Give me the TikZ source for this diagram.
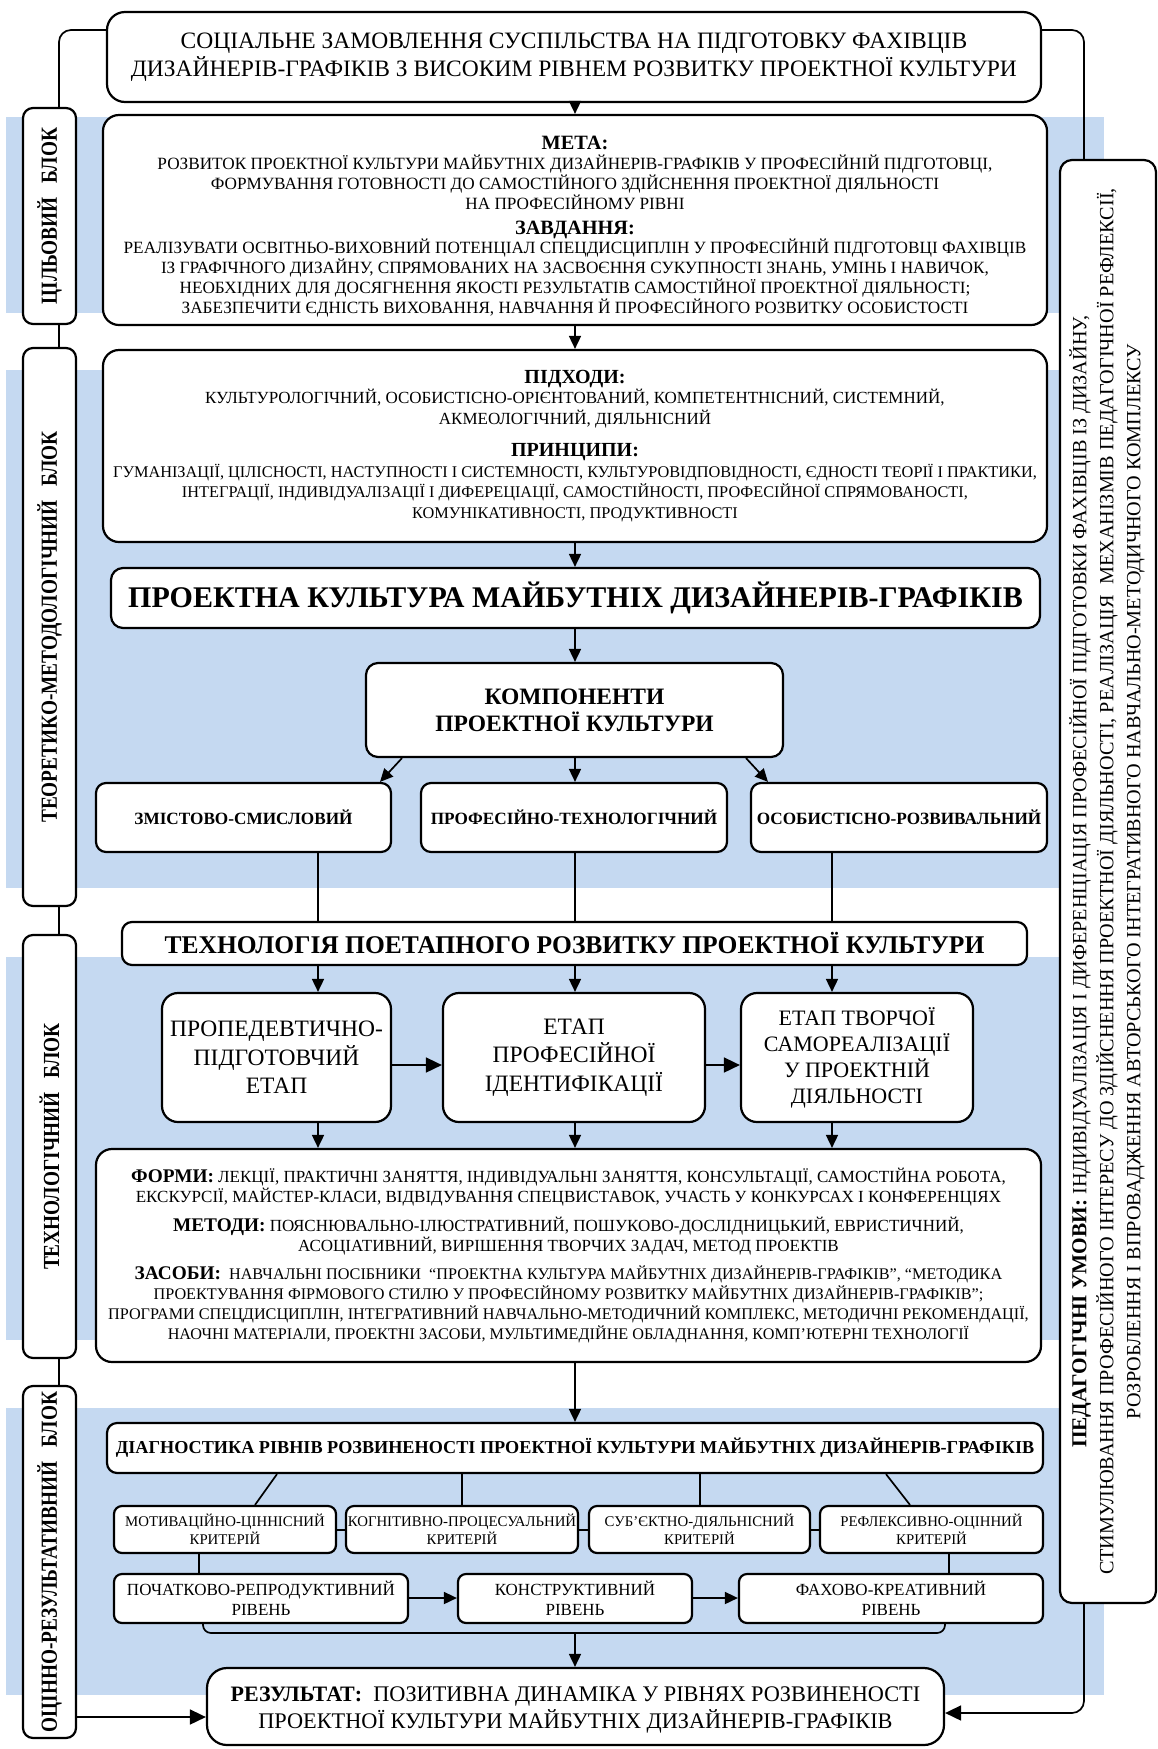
\documentclass[tikz,border=0pt]{standalone}
\usepackage{graphicx}
\usepackage{fontspec}
\setmainfont{Liberation Serif}
\newfontfamily\lblfont{Liberation Serif}[FakeStretch=0.84]
\usetikzlibrary{arrows.meta}
\definecolor{bandblue}{RGB}{197,217,241}
\newcommand\fsz[2]{\fontsize{#1}{#2}\selectfont}
\begin{document}
\begin{tikzpicture}[x=1pt,y=-1pt,
  box/.style={draw=black, line width=2.2pt, fill=white, rounded corners=12pt, inner sep=0pt, align=center},
  conn/.style={draw=black, line width=1.7pt},
  arr/.style={conn, -{Triangle[length=13pt,width=12pt]}},
  bigarr/.style={conn, -{Triangle[length=16pt,width=15pt]}},
  lbl/.style={box, rounded corners=10pt, minimum width=53pt},
]
\useasboundingbox (0,0) rectangle (1158,1749);
\fill[white] (0,0) rectangle (1158,1749);
% bands
\fill[bandblue] (6,117) rectangle (1104,313);
\fill[bandblue] (6,370) rectangle (1104,888);
\fill[bandblue] (6,957) rectangle (1104,1340);
\fill[bandblue] (6,1408) rectangle (1104,1695);

% helper coordinates
\coordinate (lx) at (59,0);
\coordinate (rx) at (1084,0);
\coordinate (ty) at (0,30);
\coordinate (cA) at (318,0);
\coordinate (cB) at (575,0);
\coordinate (cC) at (832,0);
\coordinate (dA1) at (402,0);
\coordinate (dA2) at (380,0);
\coordinate (dC1) at (746,0);
\coordinate (dC2) at (768,0);
\coordinate (sy) at (0,1065);
\coordinate (k1a) at (277,0);
\coordinate (k1b) at (255,0);
\coordinate (k2a) at (462,0);
\coordinate (k3a) at (700,0);
\coordinate (k4a) at (886,0);
\coordinate (k4b) at (910,0);
\coordinate (hy) at (0,1530);
\coordinate (v1) at (199,0);
\coordinate (v4) at (949,0);
\coordinate (ly) at (0,1598);
\coordinate (bL) at (203,1633);
\coordinate (bR) at (945,1633);
\coordinate (bM) at (575,1633);
\coordinate (ay) at (0,1717);
\coordinate (ay2) at (0,1713);

% top box
\node[box, rounded corners=18pt, minimum width=934pt, minimum height=90pt, font=\fsz{23.5}{28}] (top) at (574,57)
 {СОЦІАЛЬНЕ ЗАМОВЛЕННЯ СУСПІЛЬСТВА НА ПІДГОТОВКУ ФАХІВЦІВ\\
  ДИЗАЙНЕРІВ-ГРАФІКІВ З ВИСОКИМ РІВНЕМ РОЗВИТКУ ПРОЕКТНОЇ КУЛЬТУРИ};

% meta
\node[box, rounded corners=16pt, minimum width=944pt, minimum height=210pt, font=\fsz{17.2}{19.8}] (meta) at (575,220)
 {\rule{0pt}{27pt}{\bfseries\fsz{20.3}{19.8}МЕТА:}\\
  РОЗВИТОК ПРОЕКТНОЇ КУЛЬТУРИ МАЙБУТНІХ ДИЗАЙНЕРІВ-ГРАФІКІВ У ПРОФЕСІЙНІЙ ПІДГОТОВЦІ,\\
  ФОРМУВАННЯ ГОТОВНОСТІ ДО САМОСТІЙНОГО ЗДІЙСНЕННЯ ПРОЕКТНОЇ ДІЯЛЬНОСТІ\\
  НА ПРОФЕСІЙНОМУ РІВНІ\\[5pt]
  {\bfseries\fsz{20.3}{19.8}ЗАВДАННЯ:}\\
  РЕАЛІЗУВАТИ ОСВІТНЬО-ВИХОВНИЙ ПОТЕНЦІАЛ СПЕЦДИСЦИПЛІН У ПРОФЕСІЙНІЙ ПІДГОТОВЦІ ФАХІВЦІВ\\
  ІЗ ГРАФІЧНОГО ДИЗАЙНУ, СПРЯМОВАНИХ НА ЗАСВОЄННЯ СУКУПНОСТІ ЗНАНЬ, УМІНЬ І НАВИЧОК,\\
  НЕОБХІДНИХ ДЛЯ ДОСЯГНЕННЯ ЯКОСТІ РЕЗУЛЬТАТІВ САМОСТІЙНОЇ ПРОЕКТНОЇ ДІЯЛЬНОСТІ;\\
  ЗАБЕЗПЕЧИТИ ЄДНІСТЬ ВИХОВАННЯ, НАВЧАННЯ Й ПРОФЕСІЙНОГО РОЗВИТКУ ОСОБИСТОСТІ};

% pidhody
\node[box, rounded corners=16pt, minimum width=944pt, minimum height=192pt, font=\fsz{17}{20.3}] (pid) at (575,446)
 {{\bfseries\fsz{20}{20.3}ПІДХОДИ:}\\
  КУЛЬТУРОЛОГІЧНИЙ, ОСОБИСТІСНО-ОРІЄНТОВАНИЙ, КОМПЕТЕНТНІСНИЙ, СИСТЕМНИЙ,\\
  АКМЕОЛОГІЧНИЙ, ДІЯЛЬНІСНИЙ\\[12pt]
  {\bfseries\fsz{20}{20.3}ПРИНЦИПИ:}\\[1pt]
  {\fsz{16.3}{20.3}ГУМАНІЗАЦІЇ, ЦІЛІСНОСТІ, НАСТУПНОСТІ І СИСТЕМНОСТІ, КУЛЬТУРОВІДПОВІДНОСТІ, ЄДНОСТІ ТЕОРІЇ І ПРАКТИКИ,}\\
  {\fsz{16.3}{20.3}ІНТЕГРАЦІЇ, ІНДИВІДУАЛІЗАЦІЇ І ДИФЕРЕЦІАЦІЇ, САМОСТІЙНОСТІ, ПРОФЕСІЙНОЇ СПРЯМОВАНОСТІ,}\\
  {\fsz{16.3}{20.3}КОМУНІКАТИВНОСТІ, ПРОДУКТИВНОСТІ}};

% proektna
\node[box, minimum width=929pt, minimum height=60pt, font=\bfseries\fsz{30}{32}] (proj) at (575.5,598)
 {ПРОЕКТНА КУЛЬТУРА МАЙБУТНІХ ДИЗАЙНЕРІВ-ГРАФІКІВ};

% komponenty
\node[box, minimum width=417pt, minimum height=94pt, font=\bfseries\fsz{23.5}{27}] (komp) at (574.5,710)
 {КОМПОНЕНТИ\\ПРОЕКТНОЇ КУЛЬТУРИ};

\node[box, rounded corners=10pt, minimum width=295pt, minimum height=69pt, font=\bfseries\fsz{17.2}{20}] (c1) at (243.5,817.5) {ЗМІСТОВО-СМИСЛОВИЙ};
\node[box, rounded corners=10pt, minimum width=306pt, minimum height=69pt, font=\bfseries\fsz{17.2}{20}] (c2) at (574,817.5) {ПРОФЕСІЙНО-ТЕХНОЛОГІЧНИЙ};
\node[box, rounded corners=10pt, minimum width=296pt, minimum height=69pt, font=\bfseries\fsz{17.2}{20}] (c3) at (899,817.5) {ОСОБИСТІСНО-РОЗВИВАЛЬНИЙ};

% tekhnolohiya
\node[box, rounded corners=10pt, minimum width=905pt, minimum height=43pt, font=\bfseries\fsz{25.5}{28}] (tekh) at (574.5,943.5)
 {ТЕХНОЛОГІЯ ПОЕТАПНОГО РОЗВИТКУ ПРОЕКТНОЇ КУЛЬТУРИ};

% stages
\node[box, rounded corners=16pt, minimum width=229pt, minimum height=129pt, font=\fsz{23.5}{28.5}] (s1) at (276.5,1057.5)
 {ПРОПЕДЕВТИЧНО-\\ПІДГОТОВЧИЙ\\ЕТАП};
\node[box, rounded corners=16pt, minimum width=262pt, minimum height=129pt, font=\fsz{23.5}{28.5}] (s2) at (574,1057.5)
 {ЕТАП\\ПРОФЕСІЙНОЇ\\ІДЕНТИФІКАЦІЇ};
\node[box, rounded corners=16pt, minimum width=232pt, minimum height=129pt, font=\fsz{22}{26}] (s3) at (857,1057.5)
 {ЕТАП ТВОРЧОЇ\\САМОРЕАЛІЗАЦІЇ\\У ПРОЕКТНІЙ\\ДІЯЛЬНОСТІ};

% formy
\node[box, rounded corners=16pt, minimum width=945pt, minimum height=213pt, font=\fsz{17}{19.8}] (formy) at (568.5,1255.5)
 {{\bfseries\fsz{19.3}{19.8}ФОРМИ:} ЛЕКЦІЇ, ПРАКТИЧНІ ЗАНЯТТЯ, ІНДИВІДУАЛЬНІ ЗАНЯТТЯ, КОНСУЛЬТАЦІЇ, САМОСТІЙНА РОБОТА,\\
  ЕКСКУРСІЇ, МАЙСТЕР-КЛАСИ, ВІДВІДУВАННЯ СПЕЦВИСТАВОК, УЧАСТЬ У КОНКУРСАХ І КОНФЕРЕНЦІЯХ\\[9pt]
  {\bfseries\fsz{19.3}{19.8}МЕТОДИ:} ПОЯСНЮВАЛЬНО-ІЛЮСТРАТИВНИЙ, ПОШУКОВО-ДОСЛІДНИЦЬКИЙ, ЕВРИСТИЧНИЙ,\\
  АСОЦІАТИВНИЙ, ВИРІШЕННЯ ТВОРЧИХ ЗАДАЧ, МЕТОД ПРОЕКТІВ\\[9pt]
  {\bfseries\fsz{19.3}{19.8}ЗАСОБИ:}{\fsz{16.2}{19.8}\ \ НАВЧАЛЬНІ ПОСІБНИКИ\ \ “ПРОЕКТНА КУЛЬТУРА МАЙБУТНІХ ДИЗАЙНЕРІВ-ГРАФІКІВ”, “МЕТОДИКА}\\
  {\fsz{16.2}{19.8}ПРОЕКТУВАННЯ ФІРМОВОГО СТИЛЮ У ПРОФЕСІЙНОМУ РОЗВИТКУ МАЙБУТНІХ ДИЗАЙНЕРІВ-ГРАФІКІВ”;}\\
  {\fsz{16.2}{19.8}ПРОГРАМИ СПЕЦДИСЦИПЛІН, ІНТЕГРАТИВНИЙ НАВЧАЛЬНО-МЕТОДИЧНИЙ КОМПЛЕКС, МЕТОДИЧНІ РЕКОМЕНДАЦІЇ,}\\
  {\fsz{16.2}{19.8}НАОЧНІ МАТЕРІАЛИ, ПРОЕКТНІ ЗАСОБИ, МУЛЬТИМЕДІЙНЕ ОБЛАДНАННЯ, КОМП’ЮТЕРНІ ТЕХНОЛОГІЇ}};

% diagnostyka
\node[box, rounded corners=10pt, minimum width=936pt, minimum height=50pt, font=\bfseries\fsz{18.2}{20}] (diag) at (575,1448)
 {ДІАГНОСТИКА РІВНІВ РОЗВИНЕНОСТІ ПРОЕКТНОЇ КУЛЬТУРИ МАЙБУТНІХ ДИЗАЙНЕРІВ-ГРАФІКІВ};

% criteria
\node[box, rounded corners=8pt, minimum width=222pt, minimum height=47pt, font=\fsz{14.8}{18}] (k1) at (225,1529.5) {МОТИВАЦІЙНО-ЦІННІСНИЙ\\КРИТЕРІЙ};
\node[box, rounded corners=8pt, minimum width=232pt, minimum height=47pt, font=\fsz{14.8}{18}] (k2) at (462,1529.5) {КОГНІТИВНО-ПРОЦЕСУАЛЬНИЙ\\КРИТЕРІЙ};
\node[box, rounded corners=8pt, minimum width=221pt, minimum height=47pt, font=\fsz{14.8}{18}] (k3) at (699.5,1529.5) {СУБ’ЄКТНО-ДІЯЛЬНІСНИЙ\\КРИТЕРІЙ};
\node[box, rounded corners=8pt, minimum width=223pt, minimum height=47pt, font=\fsz{14.8}{18}] (k4) at (931.5,1529.5) {РЕФЛЕКСИВНО-ОЦІННИЙ\\КРИТЕРІЙ};

% levels
\node[box, rounded corners=8pt, minimum width=294pt, minimum height=49pt, font=\fsz{17}{20}] (l1) at (261,1598.5) {ПОЧАТКОВО-РЕПРОДУКТИВНИЙ\\РІВЕНЬ};
\node[box, rounded corners=8pt, minimum width=234pt, minimum height=49pt, font=\fsz{17}{20}] (l2) at (575,1598.5) {КОНСТРУКТИВНИЙ\\РІВЕНЬ};
\node[box, rounded corners=8pt, minimum width=304pt, minimum height=49pt, font=\fsz{17}{20}] (l3) at (891,1598.5) {ФАХОВО-КРЕАТИВНИЙ\\РІВЕНЬ};

% result
\node[box, rounded corners=20pt, minimum width=737pt, minimum height=77pt, font=\fsz{22.3}{27}] (res) at (575.5,1706.5)
 {\rule{0pt}{22pt}{\bfseries\fsz{22}{27}РЕЗУЛЬТАТ:}\ \ ПОЗИТИВНА ДИНАМІКА У РІВНЯХ РОЗВИНЕНОСТІ\\
  ПРОЕКТНОЇ КУЛЬТУРИ МАЙБУТНІХ ДИЗАЙНЕРІВ-ГРАФІКІВ};

% left labels
\node[lbl, minimum height=216pt] (L1) at (49.5,216) {\rotatebox{90}{\lblfont\bfseries\fsz{23}{26}ЦІЛЬОВИЙ\hspace{0.6em}БЛОК}};
\node[lbl, minimum height=558pt] (L2) at (49.5,627) {\rotatebox{90}{\lblfont\bfseries\fsz{23}{26}ТЕОРЕТИКО-МЕТОДОЛОГІЧНИЙ\hspace{0.6em}БЛОК}};
\node[lbl, minimum height=423pt] (L3) at (49.5,1146.5) {\rotatebox{90}{\lblfont\bfseries\fsz{23}{26}ТЕХНОЛОГІЧНИЙ\hspace{0.6em}БЛОК}};
\node[lbl, minimum height=352pt] (L4) at (49.5,1562) {\rotatebox{90}{\lblfont\bfseries\fsz{23}{26}ОЦІННО-РЕЗУЛЬТАТИВНИЙ\hspace{0.6em}БЛОК}};

% right box
\node[box, rounded corners=12pt, minimum width=96pt, minimum height=1443pt] (R) at (1108,881.5)
 {\rotatebox{90}{\fsz{20.2}{27}\begin{tabular}{@{}c@{}}
  {\bfseries\fsz{21.3}{27}ПЕДАГОГІЧНІ УМОВИ:} ІНДИВІДУАЛІЗАЦІЯ І ДИФЕРЕНЦІАЦІЯ ПРОФЕСІЙНОЇ ПІДГОТОВКИ ФАХІВЦІВ ІЗ ДИЗАЙНУ,\\
  СТИМУЛЮВАННЯ ПРОФЕСІЙНОГО ІНТЕРЕСУ ДО ЗДІЙСНЕННЯ ПРОЕКТНОЇ ДІЯЛЬНОСТІ, РЕАЛІЗАЦІЯ\ \ МЕХАНІЗМІВ ПЕДАГОГІЧНОЇ РЕФЛЕКСІЇ,\\
  РОЗРОБЛЕННЯ І ВПРОВАДЖЕННЯ АВТОРСЬКОГО ІНТЕГРАТИВНОГО НАВЧАЛЬНО-МЕТОДИЧНОГО КОМПЛЕКСУ
  \end{tabular}}};

% connectors
\draw[conn, rounded corners=12pt] (top.west |- ty) -| (L1.north -| lx);
\draw[conn, rounded corners=12pt] (top.east |- ty) -| (R.north -| rx);
\draw[conn] (L1.south -| lx) -- (L2.north -| lx);
\draw[conn] (L2.south -| lx) -- (L3.north -| lx);
\draw[conn] (L3.south -| lx) -- (L4.north -| lx);

\draw[arr] (top.south -| cB) -- (meta.north -| cB);
\draw[arr] (meta.south -| cB) -- (pid.north -| cB);
\draw[arr] (pid.south -| cB) -- (proj.north -| cB);
\draw[arr] (proj.south -| cB) -- (komp.north -| cB);
\draw[arr] (komp.south -| cB) -- (c2.north -| cB);
\draw[arr] (komp.south -| dA1) -- (c1.north -| dA2);
\draw[arr] (komp.south -| dC1) -- (c3.north -| dC2);

\draw[conn] (c1.south -| cA) -- (tekh.north -| cA);
\draw[conn] (c2.south -| cB) -- (tekh.north -| cB);
\draw[conn] (c3.south -| cC) -- (tekh.north -| cC);

\draw[arr] (tekh.south -| cA) -- (s1.north -| cA);
\draw[arr] (tekh.south -| cB) -- (s2.north -| cB);
\draw[arr] (tekh.south -| cC) -- (s3.north -| cC);
\draw[bigarr] (s1.east |- sy) -- (s2.west |- sy);
\draw[bigarr] (s2.east |- sy) -- (s3.west |- sy);
\draw[arr] (s1.south -| cA) -- (formy.north -| cA);
\draw[arr] (s2.south -| cB) -- (formy.north -| cB);
\draw[arr] (s3.south -| cC) -- (formy.north -| cC);

\draw[arr] (formy.south -| cB) -- (diag.north -| cB);
\draw[conn] (diag.south -| k1a) -- (k1.north -| k1b);
\draw[conn] (diag.south -| k2a) -- (k2.north -| k2a);
\draw[conn] (diag.south -| k3a) -- (k3.north -| k3a);
\draw[conn] (diag.south -| k4a) -- (k4.north -| k4b);
\draw[conn] (k1.east |- hy) -- (k2.west |- hy);
\draw[conn] (k2.east |- hy) -- (k3.west |- hy);
\draw[conn] (k3.east |- hy) -- (k4.west |- hy);
\draw[conn] (k1.south -| v1) -- (l1.north -| v1);
\draw[conn] (k4.south -| v4) -- (l3.north -| v4);
\draw[arr] (l1.east |- ly) -- (l2.west |- ly);
\draw[arr] (l2.east |- ly) -- (l3.west |- ly);
\draw[conn, rounded corners=8pt] (l1.south -| bL) |- (bR) -- (l3.south -| bR);
\draw[arr] (bM) -- (res.north -| bM);
\draw[bigarr] (L4.east |- ay) -- (res.west |- ay);
\draw[bigarr, rounded corners=12pt] (R.south -| rx) |- (res.east |- ay2);
\end{tikzpicture}
\end{document}
